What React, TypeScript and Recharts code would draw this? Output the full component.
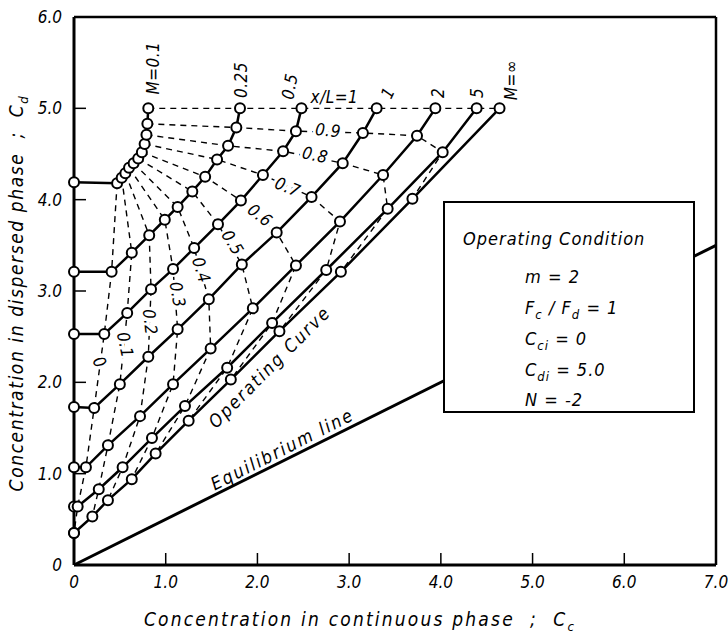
import React from "react";
import {
  ComposedChart,
  Line,
  XAxis,
  YAxis,
  ReferenceLine,
  ReferenceDot,
} from "recharts";

// x/L stations along the column
const X_OVER_L = [0, 0.1, 0.2, 0.3, 0.4, 0.5, 0.6, 0.7, 0.8, 0.9, 1];

// back-mixing parameter of each profile
const M_NAMES = ["0.1", "0.25", "0.5", "1", "2", "5", "∞"];

// Cd at the inlet (Cc = 0) for each M
const CD_INLET = [4.19, 3.21, 2.53, 1.73, 1.07, 0.64, 0.35];

// Cc / Cd at x/L = 0 ... 1
const CC_M01 = [0.47, 0.52, 0.56, 0.6, 0.65, 0.7, 0.74, 0.77, 0.79, 0.8, 0.81];
const CD_M01 = [4.18, 4.24, 4.29, 4.35, 4.4, 4.45, 4.52, 4.61, 4.71, 4.83, 5.0];
const CC_M025 = [0.41, 0.63, 0.82, 0.99, 1.13, 1.29, 1.43, 1.56, 1.68, 1.77, 1.81];
const CD_M025 = [3.21, 3.42, 3.61, 3.78, 3.92, 4.09, 4.25, 4.44, 4.59, 4.79, 5.0];
const CC_M05 = [0.33, 0.58, 0.84, 1.08, 1.31, 1.57, 1.82, 2.06, 2.28, 2.42, 2.48];
const CD_M05 = [2.53, 2.76, 3.02, 3.24, 3.47, 3.73, 3.99, 4.27, 4.53, 4.75, 5.0];
const CC_M1 = [0.22, 0.5, 0.81, 1.13, 1.47, 1.83, 2.21, 2.59, 2.93, 3.15, 3.3];
const CD_M1 = [1.72, 1.98, 2.28, 2.58, 2.91, 3.29, 3.64, 4.03, 4.4, 4.73, 5.0];
const CC_M2 = [0.13, 0.37, 0.72, 1.08, 1.49, 1.95, 2.42, 2.9, 3.37, 3.74, 3.94];
const CD_M2 = [1.07, 1.31, 1.63, 1.98, 2.37, 2.81, 3.28, 3.76, 4.27, 4.7, 5.0];
const CC_M5 = [0.04, 0.27, 0.53, 0.85, 1.21, 1.67, 2.16, 2.75, 3.42, 4.02, 4.39];
const CD_M5 = [0.64, 0.83, 1.07, 1.39, 1.74, 2.16, 2.65, 3.23, 3.9, 4.52, 5.0];
const CC_MINF = [0, 0.2, 0.37, 0.63, 0.89, 1.25, 1.71, 2.24, 2.91, 3.69, 4.64];
const CD_MINF = [0.35, 0.53, 0.71, 0.94, 1.22, 1.58, 2.03, 2.56, 3.21, 4.01, 5.0];

// equilibrium line Cd = Cc / m  (m = 2)
const EQ_CC = [0, 7];
const EQ_CD = [0, 3.5];

const X_TICKS = [0, 1, 2, 3, 4, 5, 6, 7];
const Y_TICKS = [0, 1, 2, 3, 4, 5, 6];

// text annotations, anchored in data units; gap = break the dashed line under it
const NOTES = [
  { text: "M=0.1", x: 0.86, y: 5.44, angle: -90 },
  { text: "0.25", x: 1.82, y: 5.31, angle: -90 },
  { text: "0.5", x: 2.35, y: 5.24, angle: -80 },
  { text: "x/L=1", x: 2.84, y: 5.12, angle: 0 },
  { text: "1", x: 3.42, y: 5.17, angle: -65 },
  { text: "2", x: 3.97, y: 5.17, angle: -90 },
  { text: "5", x: 4.39, y: 5.17, angle: -90 },
  { text: "M=∞", x: 4.77, y: 5.31, angle: -90 },
  { text: "0.9", x: 2.77, y: 4.76, angle: 5, gap: true },
  { text: "0.8", x: 2.63, y: 4.49, angle: 12, gap: true },
  { text: "0.7", x: 2.33, y: 4.14, angle: 22, gap: true },
  { text: "0.6", x: 2.03, y: 3.83, angle: 38, gap: true },
  { text: "0.5", x: 1.73, y: 3.53, angle: 58, gap: true },
  { text: "0.4", x: 1.39, y: 3.23, angle: 72, gap: true },
  { text: "0.3", x: 1.13, y: 2.96, angle: 80, gap: true },
  { text: "0.2", x: 0.83, y: 2.66, angle: 84, gap: true },
  { text: "0.1", x: 0.56, y: 2.41, angle: 78, gap: true },
  { text: "0", x: 0.28, y: 2.22, angle: 60, gap: true },
  { text: "Operating Curve", x: 2.13, y: 2.17, angle: -45, big: true },
  { text: "Equilibrium line", x: 2.27, y: 1.27, angle: -27, big: true },
];

const FONT = "'Liberation Sans Narrow', 'DejaVu Sans Condensed', 'DejaVu Sans', sans-serif";

const profiles = [
  [CC_M01, CD_M01],
  [CC_M025, CD_M025],
  [CC_M05, CD_M05],
  [CC_M1, CD_M1],
  [CC_M2, CD_M2],
  [CC_M5, CD_M5],
  [CC_MINF, CD_MINF],
].map(([cc, cd], k) => [
  { x: 0, y: CD_INLET[k] },
  ...cc.map((v, i) => ({ x: v, y: cd[i] })),
]);

// dashed lines join equal x/L points across the M profiles
const stations = X_OVER_L.map((_, i) =>
  profiles.map((p) => ({ x: p[i + 1].x, y: p[i + 1].y }))
);

const eqData = EQ_CC.map((v, i) => ({ x: v, y: EQ_CD[i] }));

const fmt = (v: number) => (v === 0 ? "0" : v.toFixed(1));

const XTick = (props: any) => {
  const { x, y, payload } = props;
  const v = payload.value;
  return (
    <g>
      {v > 0 && v < 7 && (
        <line x1={x} x2={x} y1={y} y2={y - 12} stroke="#000" strokeWidth={1.5} />
      )}
      <text
        x={x}
        y={y + 23}
        textAnchor="middle"
        fontFamily={FONT}
        fontStyle="italic"
        fontSize={17}
        fill="#000"
      >
        {fmt(v)}
      </text>
    </g>
  );
};

const YTick = (props: any) => {
  const { x, y, payload } = props;
  const v = payload.value;
  return (
    <g>
      {v > 0 && v < 6 && (
        <line x1={x} x2={x + 12} y1={y} y2={y} stroke="#000" strokeWidth={1.5} />
      )}
      <text
        x={x - 12}
        y={y + 6}
        textAnchor="end"
        fontFamily={FONT}
        fontStyle="italic"
        fontSize={17}
        fill="#000"
      >
        {fmt(v)}
      </text>
    </g>
  );
};

const noteShape = (n: any) => (p: any) =>
  (
    <text
      x={p.cx}
      y={p.cy}
      textAnchor="middle"
      dominantBaseline="central"
      transform={`rotate(${n.angle}, ${p.cx}, ${p.cy})`}
      fontFamily={FONT}
      fontStyle="italic"
      fontSize={n.big ? 18 : 17}
      letterSpacing={n.big ? 2 : 0.5}
      fill="#000"
      stroke={n.gap ? "#fff" : "none"}
      strokeWidth={n.gap ? 6 : 0}
      paintOrder="stroke"
    >
      {n.text}
    </text>
  );

const boxLine: React.CSSProperties = {
  position: "absolute",
  left: 80,
  fontFamily: FONT,
  fontStyle: "italic",
  fontSize: 18,
  letterSpacing: 1,
  whiteSpace: "nowrap",
};

const title: React.CSSProperties = {
  position: "absolute",
  fontFamily: FONT,
  fontStyle: "italic",
  fontSize: 19,
  whiteSpace: "nowrap",
};

export default function App() {
  return (
    <div style={{ position: "absolute", left: 0, top: 0, width: 728, height: 639, background: "#fff" }}>
      <ComposedChart
        width={728}
        height={639}
        margin={{ top: 17, right: 12, left: 0, bottom: 0 }}
      >
        <XAxis
          type="number"
          dataKey="x"
          domain={[0, 7]}
          ticks={X_TICKS}
          interval={0}
          height={74}
          tickSize={0}
          tickMargin={0}
          tickLine={false}
          tick={XTick}
          axisLine={{ stroke: "#000", strokeWidth: 3 }}
          allowDuplicatedCategory={false}
        />
        <YAxis
          type="number"
          dataKey="y"
          domain={[0, 6]}
          ticks={Y_TICKS}
          interval={0}
          width={74}
          tickSize={0}
          tickMargin={0}
          tickLine={false}
          tick={YTick}
          axisLine={{ stroke: "#000", strokeWidth: 3 }}
        />
        <ReferenceLine y={6} stroke="#000" strokeWidth={2.5} />
        <ReferenceLine x={7} stroke="#000" strokeWidth={2.5} />

        <Line
          data={eqData}
          dataKey="y"
          type="linear"
          stroke="#000"
          strokeWidth={3}
          dot={false}
          isAnimationActive={false}
        />

        {stations.map((d, i) => (
          <Line
            key={"s" + i}
            data={d}
            dataKey="y"
            type="linear"
            stroke="#000"
            strokeWidth={1.4}
            strokeDasharray="6 5"
            dot={false}
            isAnimationActive={false}
          />
        ))}

        {NOTES.filter((n) => n.gap).map((n, i) => (
          <ReferenceDot key={"g" + i} x={n.x} y={n.y} r={1} shape={noteShape(n)} />
        ))}

        {profiles.map((d, k) => (
          <Line
            key={"m" + M_NAMES[k]}
            data={d}
            dataKey="y"
            type="linear"
            stroke="#000"
            strokeWidth={2.5}
            dot={{ r: 5, fill: "#fff", stroke: "#000", strokeWidth: 2 }}
            isAnimationActive={false}
          />
        ))}

        {NOTES.filter((n) => !n.gap).map((n, i) => (
          <ReferenceDot key={"n" + i} x={n.x} y={n.y} r={1} shape={noteShape(n)} />
        ))}
      </ComposedChart>

      {/* operating condition box */}
      <div
        style={{
          position: "absolute",
          left: 443,
          top: 201,
          width: 248,
          height: 208,
          border: "2.5px solid #000",
          background: "#fff",
        }}
      >
        <div style={{ ...boxLine, left: 18, top: 25 }}>Operating Condition</div>
        <div style={{ ...boxLine, top: 63 }}>m = 2</div>
        <div style={{ ...boxLine, top: 94 }}>
          F<sub style={{ fontSize: 13 }}>c</sub> / F<sub style={{ fontSize: 13 }}>d</sub> = 1
        </div>
        <div style={{ ...boxLine, top: 125 }}>
          C<sub style={{ fontSize: 13 }}>ci</sub> = 0
        </div>
        <div style={{ ...boxLine, top: 156 }}>
          C<sub style={{ fontSize: 13 }}>di</sub> = 5.0
        </div>
        <div style={{ ...boxLine, top: 186 }}>N = -2</div>
      </div>

      {/* axis titles */}
      <div
        style={{
          ...title,
          left: 360,
          top: 621,
          letterSpacing: 2.2,
          transform: "translate(-50%, -50%)",
        }}
      >
        Concentration in continuous phase&nbsp; ;&nbsp; C<sub style={{ fontSize: 13 }}>c</sub>
      </div>
      <div
        style={{
          ...title,
          left: 18,
          top: 293,
          letterSpacing: 1.6,
          transform: "translate(-50%, -50%) rotate(-90deg)",
        }}
      >
        Concentration in dispersed phase&nbsp; ;&nbsp; C<sub style={{ fontSize: 13 }}>d</sub>
      </div>
    </div>
  );
}
